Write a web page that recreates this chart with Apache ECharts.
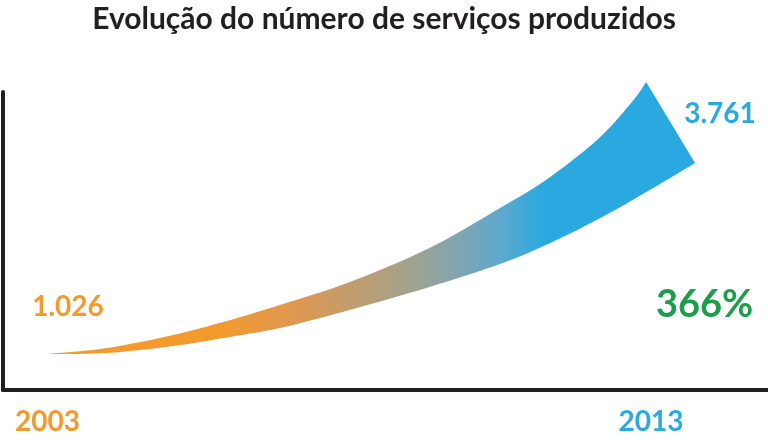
<!DOCTYPE html>
<html><head><meta charset="utf-8">
<script src="https://cdn.jsdelivr.net/npm/echarts@6/dist/echarts.min.js"></script>
<style>html,body{margin:0;padding:0;background:#fff}#c{width:768px;height:440px}</style>
</head><body><div id="c"></div><script>
// ---- data ----
const chartTitle = 'Evolução do número de serviços produzidos';
const years = [2003, 2013];
const services = [1026, 3761];
// upper and lower edge of the growth band, [year, services]
const upperEdge = [[2003,1026],[2003.99,1097],[2005.08,1250],[2005.91,1403],[2006.85,1604],[2008.01,1875],[2009.33,2276],[2010.50,2747],[2011.33,3113],[2012.16,3584],[2012.71,4020],[2012.92,4233]];
const lowerEdge = [[2003,1026],[2003.99,1038],[2005.08,1120],[2005.91,1215],[2006.85,1333],[2008.01,1545],[2009.33,1816],[2010.50,2087],[2011.33,2335],[2012.16,2629],[2012.98,2959],[2013.73,3278]];

function fmt(n){ return String(n).replace(/\B(?=(\d{3})+(?!\d))/g, '.'); }
const growth = Math.floor(services[1] / services[0] * 100) + '%';

const ORANGE = '#F39A2C', BLUE = '#29A9E0', GREEN = '#1B9D4C', DARK = '#231F20';

function catmull(pts){
  let d = '';
  for (let i = 0; i < pts.length - 1; i++) {
    const p0 = pts[Math.max(i-1,0)], p1 = pts[i], p2 = pts[i+1], p3 = pts[Math.min(i+2, pts.length-1)];
    const c1 = [p1[0] + (p2[0]-p0[0])/6, p1[1] + (p2[1]-p0[1])/6];
    const c2 = [p2[0] - (p3[0]-p1[0])/6, p2[1] - (p3[1]-p1[1])/6];
    d += ' C' + c1[0] + ' ' + c1[1] + ' ' + c2[0] + ' ' + c2[1] + ' ' + p2[0] + ' ' + p2[1];
  }
  return d;
}

const chart = echarts.init(document.getElementById('c'), null, {renderer:'canvas'});
chart.setOption({
  animation: false,
  backgroundColor: '#fff',
  title: {
    text: chartTitle, left: 'center', top: -1,
    textStyle: {fontFamily: 'Lato', fontWeight: 'bold', fontSize: 30, color: DARK}
  },
  grid: {left: 3, right: 0, top: 92, bottom: 50, containLabel: false, outerBoundsMode: 'none'},
  xAxis: {
    type: 'value', min: 2002.263, max: 2014.939,
    axisLine: {show: true, onZero: false, lineStyle: {color: DARK, width: 4}},
    axisTick: {show: false}, splitLine: {show: false},
    axisLabel: {
      customValues: years, margin: 18,
      fontFamily: 'Lato', fontWeight: 'bold', fontSize: 28,
      formatter: function(v){
        return Math.round(Number(v)) === years[0] ? '{o|' + v + '}' : '{b|' + v + '}';
      },
      rich: {
        o: {color: ORANGE, fontFamily: 'Lato', fontWeight: 'bold', fontSize: 28},
        b: {color: BLUE, fontFamily: 'Lato', fontWeight: 'bold', fontSize: 28}
      }
    }
  },
  yAxis: {
    type: 'value', min: 601.6, max: 4114.7,
    axisLine: {show: true, onZero: false, lineStyle: {color: DARK, width: 4}},
    axisTick: {show: false}, splitLine: {show: false}, axisLabel: {show: false}
  },
  series: [
    {
      type: 'custom', clip: false, silent: true,
      data: [[years[0], services[0]]],
      renderItem: function(params, api){
        const up = upperEdge.map(p => api.coord(p));
        const lo = lowerEdge.map(p => api.coord(p)).reverse();
        let d = 'M' + up[0][0] + ' ' + up[0][1] + catmull(up);
        d += ' L' + lo[0][0] + ' ' + lo[0][1] + catmull(lo) + ' Z';
        const xs = up.concat(lo).map(p => p[0]);
        const x0 = Math.min.apply(null, xs), x1 = Math.max.apply(null, xs);
        const fill = new echarts.graphic.LinearGradient(x0, 0, x1, 0, [
          {offset: 0, color: ORANGE},
          {offset: 0.258, color: ORANGE},
          {offset: 0.389, color: 'rgb(222,152,82)'},
          {offset: 0.544, color: 'rgb(168,161,134)'},
          {offset: 0.621, color: 'rgb(135,164,170)'},
          {offset: 0.699, color: 'rgb(95,168,205)'},
          {offset: 0.765, color: BLUE},
          {offset: 1, color: BLUE}
        ], true);
        return {type: 'path', shape: {pathData: d}, style: {fill: fill}};
      }
    },
    {
      type: 'scatter', symbolSize: 0, silent: true,
      itemStyle: {opacity: 1},
      data: [
        {value: [years[0], services[0]], label: {offset: [20.5, -47], color: ORANGE}},
        {value: [years[1], services[1]], label: {offset: [69, -8], color: BLUE}}
      ],
      label: {
        show: true, position: 'inside', opacity: 1,
        fontFamily: 'Lato', fontWeight: 'bold', fontSize: 28,
        formatter: function(p){ return fmt(p.value[1]); }
      }
    }
  ],
  graphic: [{
    type: 'text', left: 656, top: 286,
    style: {text: growth, font: 'bold 38px Lato', fill: GREEN}
  }]
});
</script></body></html>
